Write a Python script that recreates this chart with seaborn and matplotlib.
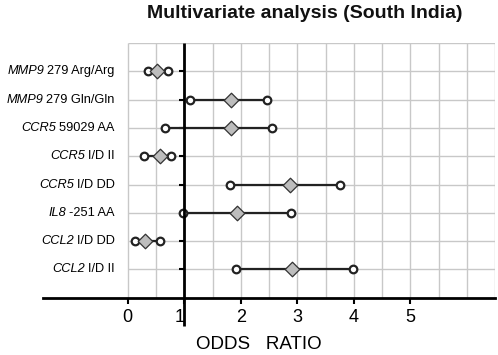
#!/usr/bin/env python3
"""Forest plot: multivariate odds ratios, South India cohort."""

import matplotlib
matplotlib.use("Agg")
import matplotlib.pyplot as plt
import numpy as np
import pandas as pd
import seaborn as sns


GENES = ["MMP9", "MMP9", "CCR5", "CCR5", "CCR5", "IL8", "CCL2", "CCL2"]
VARIANTS = ["279 Arg/Arg", "279 Gln/Gln", "59029 AA", "I/D II", "I/D DD",
            "-251 AA", "I/D DD", "I/D II"]
OR_VALUES = [0.52, 1.82, 1.82, 0.57, 2.87, 1.93, 0.30, 2.90]
CI_LOW = [0.35, 1.10, 0.66, 0.29, 1.81, 0.97, 0.13, 1.91]
CI_HIGH = [0.72, 2.46, 2.56, 0.77, 3.75, 2.89, 0.57, 3.99]
X_TICKS = [0, 1, 2, 3, 4, 5]


def main() -> None:
    sns.set_theme(style="white")
    plt.rcParams["font.family"] = ["Liberation Sans", "DejaVu Sans"]

    df = pd.DataFrame({
        "row": np.arange(1, len(GENES) + 1),
        "gene": GENES,
        "variant": VARIANTS,
        "or": OR_VALUES,
        "low": CI_LOW,
        "high": CI_HIGH,
    })
    ends = df.melt(id_vars=["row"], value_vars=["low", "high"], value_name="x")

    fig = plt.figure(figsize=(4.98, 3.55), dpi=100)
    ax = fig.add_axes([43 / 498, 1 - 297.7 / 355, 452 / 498, 254.7 / 355])

    # grid only covers the 0..6.5 region
    ax.vlines(np.arange(0, 6.51, 0.5), 0, 9, color="#c8c8c8", lw=1.0, zorder=0)
    ax.hlines(np.arange(0, 9), 0, 6.5, color="#c8c8c8", lw=1.0, zorder=0)

    ax.hlines(df["row"], df["low"], df["high"], color="#222222", lw=1.6, zorder=2)
    sns.scatterplot(data=ends, x="x", y="row", marker="o", s=30, color="white",
                    edgecolor="#222222", linewidth=1.6, zorder=3, ax=ax, legend=False)
    sns.scatterplot(data=df, x="or", y="row", marker="D", s=55, color="#bdbdbd",
                    edgecolor="#333333", linewidth=0.9, zorder=4, ax=ax, legend=False)

    ax.set_xlim(-1.5, 6.5)
    ax.set_ylim(9, 0)
    ax.set_xlabel("")
    ax.set_ylabel("")

    # reference line at OR = 1 (runs past the axis at the bottom)
    ax.plot([1, 1], [0, 10], color="black", lw=2, zorder=5, clip_on=False,
            solid_capstyle="butt")

    for side in ["top", "right"]:
        ax.spines[side].set_visible(False)
    ax.spines["left"].set_position(("data", 1))
    ax.spines["left"].set_visible(False)
    ax.spines["bottom"].set_color("black")
    ax.spines["bottom"].set_linewidth(2)

    ax.set_yticks(df["row"])
    ax.set_yticklabels([])
    ax.tick_params(axis="y", left=True, length=3.6, width=1.5, color="black",
                   direction="out")
    ax.set_xticks(X_TICKS)
    ax.set_xticklabels([str(t) for t in X_TICKS])
    ax.tick_params(axis="x", bottom=True, length=4.3, width=1.5, color="black",
                   direction="out", labelsize=13, pad=3.5, labelcolor="black")
    ax.get_xticklabels()[1].set_horizontalalignment("right")

    # row labels: italic gene name followed by the upright variant
    for row in df.itertuples(index=False):
        var_txt = ax.text(-0.23, row.row, row.variant, ha="right", va="center",
                          fontsize=9.2, color="black", clip_on=False)
        ax.annotate(row.gene, xy=(0, 0.5), xycoords=var_txt,
                    xytext=(-2.2, 0), textcoords="offset points",
                    ha="right", va="center", fontsize=9.2, style="italic",
                    color="black", annotation_clip=False)

    ax.text(2.32, 10.67, "ODDS   RATIO", ha="center", va="center",
            fontsize=13.5, color="black", clip_on=False)
    fig.text(304.7 / 498, 1 - 14 / 355, "Multivariate analysis (South India)",
             ha="center", va="center", fontsize=14, fontweight="bold", color="#111111")

    fig.savefig("out.png", dpi=100)


if __name__ == "__main__":
    main()
